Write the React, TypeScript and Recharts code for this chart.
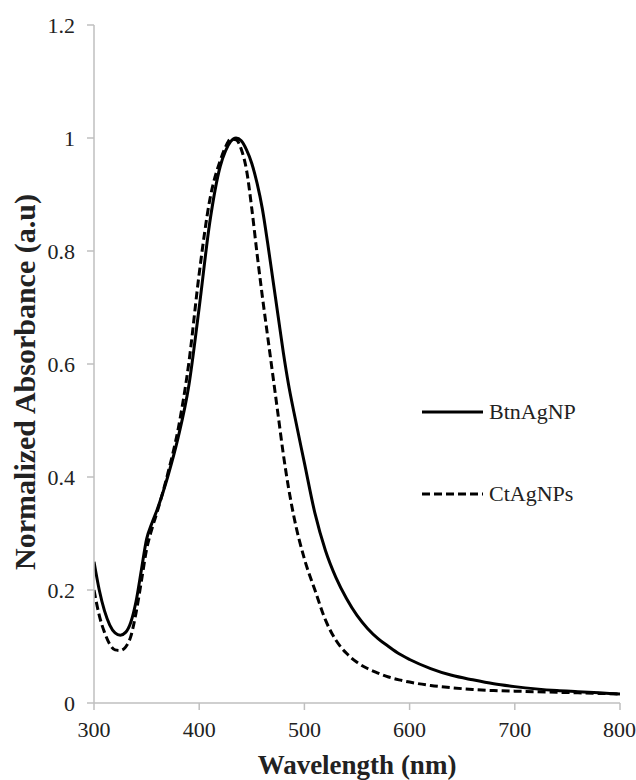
import React from 'react';
import { LineChart, Line, XAxis, YAxis, Legend } from 'recharts';

// wavelength (nm) and normalized absorbance
const wavelengths = [
  300, 305, 310, 315, 320, 325, 330, 335, 340, 345, 350, 355, 360,
  370, 380, 390, 400, 410, 420,
  425, 430, 435, 440, 445, 450, 455, 460, 465, 470, 475, 480, 485,
  490, 500, 510, 520, 530, 540, 550, 560, 570, 580, 590, 600,
  620, 640, 660, 680, 700, 720, 740, 760, 780, 800,
];

const btnAgNP = [
  0.25, 0.2, 0.163, 0.138, 0.124, 0.12, 0.125, 0.143, 0.18, 0.235, 0.29, 0.318, 0.342,
  0.4, 0.47, 0.56, 0.7, 0.85, 0.95,
  0.977, 0.994, 1.0, 0.995, 0.979, 0.955, 0.92, 0.875, 0.815, 0.75, 0.685, 0.62, 0.563,
  0.515, 0.425, 0.336, 0.27, 0.222, 0.185, 0.155, 0.132, 0.114, 0.1, 0.087, 0.077,
  0.061, 0.049, 0.041, 0.034, 0.029, 0.025, 0.022, 0.02, 0.018, 0.016,
];

const ctAgNPs = [
  0.2, 0.155, 0.125, 0.104, 0.094, 0.093, 0.099, 0.118, 0.16, 0.215, 0.272, 0.308, 0.338,
  0.405, 0.485, 0.6, 0.76, 0.89, 0.96,
  0.984, 0.998, 0.997, 0.98, 0.943, 0.875, 0.795, 0.72, 0.65, 0.58, 0.51, 0.44, 0.38,
  0.33, 0.255, 0.2, 0.147, 0.111, 0.088, 0.072, 0.061, 0.053, 0.046, 0.041, 0.037,
  0.031, 0.027, 0.024, 0.022, 0.021, 0.02, 0.019, 0.018, 0.017, 0.016,
];

const xTicks = [300, 400, 500, 600, 700, 800];
const yTicks = [0, 0.2, 0.4, 0.6, 0.8, 1, 1.2];

const seriesNames = ['BtnAgNP', 'CtAgNPs'];

const data = wavelengths.map((w, i) => ({ w, btn: btnAgNP[i], ct: ctAgNPs[i] }));

const FONT = "'Liberation Serif', 'Times New Roman', Times, 'DejaVu Serif', serif";
const AXIS_GRAY = '#bfbfbf';
const DASH = '8 4';

function LegendBox() {
  const rows = [
    { name: seriesNames[0], dash: undefined as string | undefined },
    { name: seriesNames[1], dash: DASH },
  ];
  return (
    <div style={{ fontFamily: FONT }}>
      {rows.map((r, i) => (
        <div key={r.name} style={{ display: 'flex', alignItems: 'center', height: 28, marginBottom: i === 0 ? 54 : 0 }}>
          <svg width={64} height={10}>
            <line x1={0} y1={5} x2={61} y2={5} stroke="#000" strokeWidth={3} strokeDasharray={r.dash} />
          </svg>
          <span style={{ fontSize: 22, color: '#222', marginLeft: 3 }}>{r.name}</span>
        </div>
      ))}
    </div>
  );
}

const YTitle = () => (
  <text
    x={35}
    y={382}
    transform="rotate(-90 35 382)"
    textAnchor="middle"
    fontFamily={FONT}
    fontWeight="bold"
    fontSize={30}
    fill="#222"
  >
    Normalized Absorbance (a.u)
  </text>
);

const XTitle = () => (
  <text x={357} y={774} textAnchor="middle" fontFamily={FONT} fontWeight="bold" fontSize={27} fill="#222">
    Wavelength (nm)
  </text>
);

export default function App() {
  return (
    <div style={{ position: 'absolute', left: 0, top: 0, width: 636, height: 780, background: '#fff', fontFamily: FONT }}>
      <LineChart width={636} height={780} data={data} margin={{ top: 25, right: 16, left: 24, bottom: 0 }}>
        <XAxis
          dataKey="w"
          type="number"
          domain={[300, 800]}
          ticks={xTicks}
          allowDataOverflow
          height={77}
          stroke={AXIS_GRAY}
          strokeWidth={1.5}
          tickSize={7}
          tickMargin={11}
          tick={{ fontFamily: FONT, fontSize: 22, fill: '#222' }}
          label={<XTitle />}
        />
        <YAxis
          type="number"
          domain={[0, 1.2]}
          ticks={yTicks}
          width={70}
          stroke={AXIS_GRAY}
          strokeWidth={1.5}
          tickSize={7}
          tickMargin={12}
          tick={{ fontFamily: FONT, fontSize: 22, fill: '#222' }}
          tickFormatter={(v: number) => String(Number(v.toFixed(1)))}
          label={<YTitle />}
        />
        <Legend
          layout="vertical"
          align="center"
          verticalAlign="middle"
          content={() => <LegendBox />}
          wrapperStyle={{ position: 'absolute', left: 422, top: 398, width: 200 }}
        />
        <Line
          name={seriesNames[0]}
          type="monotone"
          dataKey="btn"
          stroke="#000"
          strokeWidth={3}
          dot={false}
          isAnimationActive={false}
        />
        <Line
          name={seriesNames[1]}
          type="monotone"
          dataKey="ct"
          stroke="#000"
          strokeWidth={3}
          strokeDasharray={DASH}
          dot={false}
          isAnimationActive={false}
        />
      </LineChart>
    </div>
  );
}
